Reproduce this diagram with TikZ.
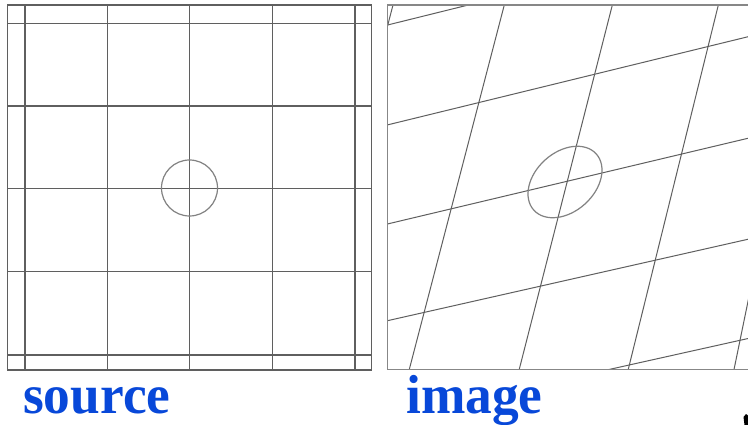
\documentclass[tikz,border=0pt]{standalone}
\usepackage{fontspec}
\setmainfont{Liberation Serif}
\definecolor{lblue}{RGB}{8,72,217}
\definecolor{gridgray}{RGB}{95,95,95}
\definecolor{framegray}{RGB}{135,135,135}
\definecolor{circgray}{RGB}{130,130,130}
\begin{document}
\begin{tikzpicture}[x=1pt,y=-1pt,
  srcline/.style={draw=gridgray,line width=1.4pt},
  imgline/.style={draw=gridgray,line width=1pt},
  frameline/.style={draw=framegray,line width=1.5pt},
  ring/.style={draw=circgray,line width=1.2pt},
  caption/.style={text=lblue,inner sep=0pt,anchor=base west,xscale=0.97,
    font=\fontsize{55}{55}\selectfont\bfseries}]
\useasboundingbox[fill=white] (0,0) rectangle (748,425);
% ---------- source panel ----------
\draw[srcline] (7.3,5) rectangle (371.7,370);
\foreach \vx in {25,107.3,189.7,272.3,355}
  \draw[srcline] (\vx,5) -- (\vx,370);
\foreach \hy in {23.3,106,188.7,271.7,355}
  \draw[srcline] (7.3,\hy) -- (371.7,\hy);
\draw[ring] (189.5,188) circle (28);
% ---------- image panel ----------
\begin{scope}
  \clip (387.5,5) rectangle (748,369.3);
  % slanted "vertical" lines
  \draw[imgline] (396.9,-10) -- (380.5,53);
  \draw[imgline] (506.9,-5) -- (406.7,379.3);
  \draw[imgline] (614.9,-5) -- (516.7,379.3);
  \draw[imgline] (720.8,-5) -- (625.8,379.3);
  \draw[imgline] (752.4,280) -- (732,379.3);
  % slanted "horizontal" lines
  \draw[imgline] (377.5,27.5) -- (488.5,0);
  \draw[imgline] (377.3,127.4) -- (758,34.3);
  \draw[imgline] (377.3,226.4) -- (758,135.9);
  \draw[imgline] (377.3,323) -- (758,237);
  \draw[imgline] (600,371.5) -- (758,336.3);
  % ellipse (image of the circle)
  \draw[ring,rotate around={42:(565,182)}] (565,182) ellipse [x radius=42,y radius=29.7];
\end{scope}
\draw[frameline] (748,5) -- (387.5,5) -- (387.5,369.3) -- (748,369.3);
% ---------- captions ----------
\node[caption] (src) at (23,413) {source};
\node[caption] (img) at (406,413) {image};
% small dark mark at the lower right corner
\fill[black] (743.5,417) -- (746,414) -- (748,415.5) -- (748,425) -- (744.5,425) -- cycle;
\end{tikzpicture}
\end{document}
